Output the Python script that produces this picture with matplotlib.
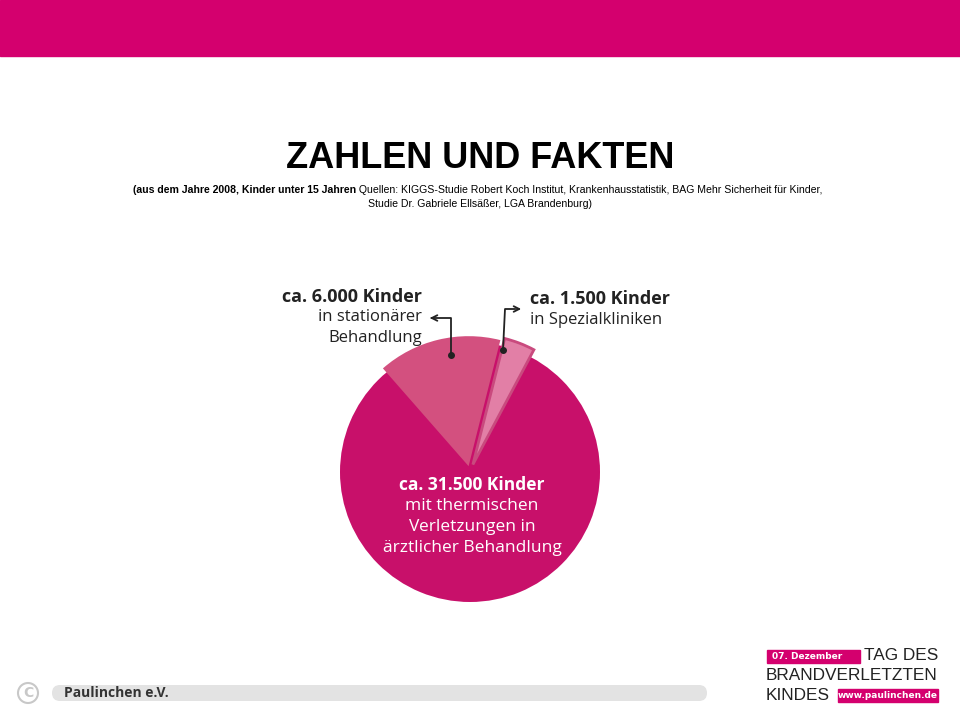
import matplotlib.pyplot as plt
from matplotlib.patches import FancyBboxPatch, Rectangle, Circle

PINK = "#d4006e"

# values (Kinder, 2008)
labels = ["Spezialkliniken", "stationär", "ärztlich"]
values = [1500, 6000, 31500]
wedge_colors = ["#e27fa6", "#d3507f", "none"]
base_value = [31500]

title = "ZAHLEN UND FAKTEN"
sub_bold = "(aus dem Jahre 2008, Kinder unter 15 Jahren"
sub_norm = " Quellen: KIGGS-Studie Robert Koch Institut, Krankenhausstatistik, BAG Mehr Sicherheit für Kinder,"
sub_line2 = "Studie Dr. Gabriele Ellsäßer, LGA Brandenburg)"

fig = plt.figure(figsize=(9.6, 7.2), dpi=100)

# pie in its own square axes, 400x400 px centred on (470, 472)
pax = fig.add_axes([270 / 960, (720 - 672) / 720, 400 / 960, 400 / 720])
pax.pie(base_value, colors=["#c8106a"], radius=130, center=(0, 0), frame=True)
w, _ = pax.pie(values, colors=wedge_colors, radius=130, startangle=62,
               explode=[8, 6, 0], center=(0, 0), frame=True,
               wedgeprops=dict(linewidth=0))
w[0].set_edgecolor("#c94a7e")
w[0].set_linewidth(2)
pax.set_xlim(-200, 200)
pax.set_ylim(-200, 200)
pax.axis("off")

ax = fig.add_axes([0, 0, 1, 1])
ax.set_zorder(5)
ax.patch.set_visible(False)
ax.set_xlim(0, 960)
ax.set_ylim(720, 0)
ax.axis("off")

ax.add_patch(Rectangle((0, 0), 960, 56, color=PINK))
ax.text(480, 158, title, ha="center", va="center", fontsize=26, fontweight="bold",
        family="Liberation Sans")
ax.text(356, 190, sub_bold, ha="right", va="center", fontsize=7.6, fontweight="bold",
        family="Liberation Sans")
ax.text(356, 190, sub_norm, ha="left", va="center", fontsize=7.6, family="Liberation Sans")
ax.text(480, 204, sub_line2, ha="center", va="center", fontsize=7.6, family="Liberation Sans")

fnt = "Open Sans"
ax.text(422, 297, "ca. 6.000 Kinder", ha="right", va="center", fontsize=13, fontweight="bold", family=fnt, color="#222222")
ax.text(422, 317, "in stationärer", ha="right", va="center", fontsize=12, family=fnt, color="#222222")
ax.text(422, 338, "Behandlung", ha="right", va="center", fontsize=12, family=fnt, color="#222222")
ax.text(530, 299, "ca. 1.500 Kinder", ha="left", va="center", fontsize=13, fontweight="bold", family=fnt, color="#222222")
ax.text(530, 320, "in Spezialkliniken", ha="left", va="center", fontsize=12, family=fnt, color="#222222")

inner = ["ca. 31.500 Kinder", "mit thermischen", "Verletzungen in", "ärztlicher Behandlung"]
for i, s in enumerate(inner):
    ax.text(472, 485 + 21 * i, s, ha="center", va="center", fontsize=12.5, color="white",
            family=fnt, fontweight="bold" if i == 0 else "normal")

# pointer arrows
ax.plot([451, 451, 432], [355, 318, 318], color="#222222", lw=1.3)
ax.plot(451, 355, "o", color="#222222", ms=4)
ax.annotate("", xy=(427, 318), xytext=(436, 318),
            arrowprops=dict(arrowstyle="->", color="#222222", lw=1.3))
ax.plot([503, 505, 515], [350, 309, 309], color="#222222", lw=1.3)
ax.plot(503, 350, "o", color="#222222", ms=4)
ax.annotate("", xy=(524, 309), xytext=(514, 309),
            arrowprops=dict(arrowstyle="->", color="#222222", lw=1.3))

# footer
ax.add_patch(FancyBboxPatch((52, 685), 655, 16, boxstyle="round,pad=0,rounding_size=8",
                            color="#e3e3e3", lw=0))
ax.text(64, 693, "Paulinchen e.V.", ha="left", va="center", fontsize=10, fontweight="bold",
        family=fnt, color="#333333")
ax.add_patch(Circle((28, 693), 10, fill=False, ec="#c8c8c8", lw=1.5))
ax.text(28, 693, "C", ha="center", va="center", fontsize=10, color="#c8c8c8", fontweight="bold")

# logo
ax.add_patch(Rectangle((767, 650), 93, 13, color=PINK))
ax.text(772, 656.5, "07. Dezember", ha="left", va="center", fontsize=6.5, color="white", fontweight="bold")
ax.text(864, 656, "TAG DES", ha="left", va="center", fontsize=12.4, family="Liberation Sans", color="#222222")
ax.text(766, 676, "BRANDVERLETZTEN", ha="left", va="center", fontsize=12.4, family="Liberation Sans", color="#222222")
ax.text(766, 696, "KINDES", ha="left", va="center", fontsize=12.4, family="Liberation Sans", color="#222222")
ax.add_patch(Rectangle((838, 689), 100, 13, color=PINK))
ax.text(888, 695.5, "www.paulinchen.de", ha="center", va="center", fontsize=6.5, color="white", fontweight="bold")

fig.savefig("out.png", dpi=100)
